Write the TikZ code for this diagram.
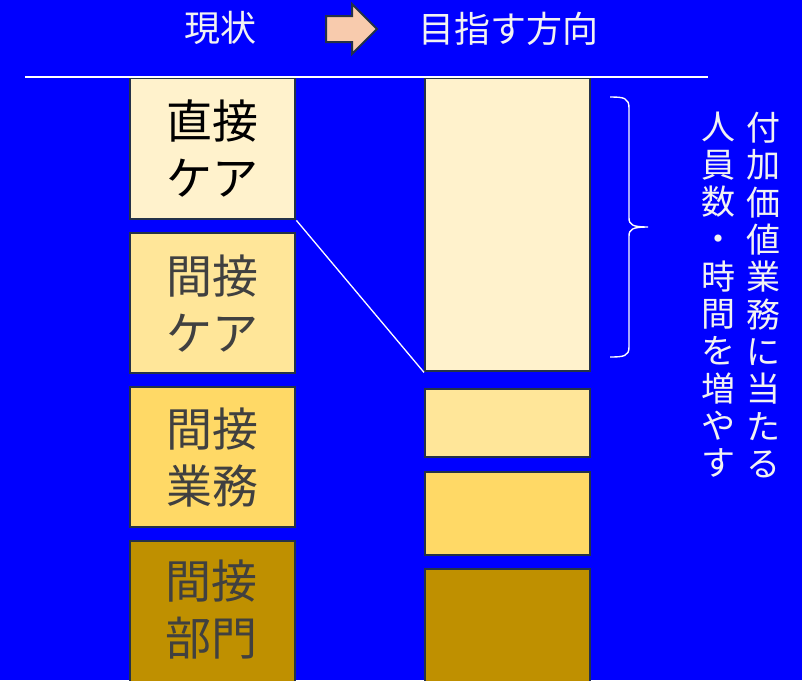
\documentclass[tikz,border=0pt]{standalone}
\usepackage{fontspec}
\setmainfont{Noto Sans CJK JP}
\definecolor{bgblue}{RGB}{0,0,255}
\definecolor{creamfill}{RGB}{255,242,204}
\definecolor{lightfill}{RGB}{255,230,153}
\definecolor{midfill}{RGB}{255,217,102}
\definecolor{darkfill}{RGB}{191,144,0}
\definecolor{edgecol}{RGB}{36,50,72}
\definecolor{arrowfill}{RGB}{248,203,173}
\definecolor{textgray}{RGB}{64,64,64}
\definecolor{toptext}{RGB}{242,242,242}
\tikzset{
  barbox/.style={draw=edgecol, line width=2.4pt, inner sep=0pt, anchor=north west},
  boxtext/.style={font=\fontsize{46}{57}\selectfont, align=center, inner sep=0pt},
  toplabel/.style={font=\fontsize{36}{40}\selectfont, text=toptext, inner sep=0pt},
  vlabel/.style={font=\fontsize{34}{37.3}\selectfont, text=toptext, align=center, inner sep=0pt},
}
\begin{document}
\begin{tikzpicture}[x=1pt,y=-1pt]
\useasboundingbox (0,0) rectangle (802,680);
\fill[bgblue] (0,0) rectangle (802,680);
\clip (0,0) rectangle (802,680);
% left column
\node[barbox, fill=creamfill, minimum width=165pt, minimum height=141pt] (L1) at (129,77) {};
\node[barbox, fill=lightfill, minimum width=165pt, minimum height=140pt] (L2) at (129,232) {};
\node[barbox, fill=midfill, minimum width=165pt, minimum height=140pt] (L3) at (129,386) {};
\node[barbox, fill=darkfill, minimum width=165pt, minimum height=150pt] (L4) at (129,540) {};
\node[boxtext, text=black] (T1) at (L1.center) {直接\\ケア};
\node[boxtext, text=textgray] (T2) at (L2.center) {間接\\ケア};
\node[boxtext, text=textgray] (T3) at (L3.center) {間接\\業務};
\node[boxtext, text=textgray] (T4) at (211,610) {間接\\部門};
% right column
\node[barbox, fill=creamfill, minimum width=165pt, minimum height=293pt] (R1) at (424,77) {};
\node[barbox, fill=lightfill, minimum width=165pt, minimum height=68pt] (R2) at (424,388) {};
\node[barbox, fill=midfill, minimum width=165pt, minimum height=83pt] (R3) at (424,471) {};
\node[barbox, fill=darkfill, minimum width=165pt, minimum height=130pt] (R4) at (424,568) {};
% top line
\coordinate (HL) at (25,77);
\coordinate (HR) at (708,77);
\draw[white, line width=1.3pt] (HL) -- (HR);
% diagonal
\draw[white, line width=1.3pt] (L1.south east) -- (R1.south west);
% top labels
\node[toplabel] (cur) at (220,28) {現状};
\node[toplabel] (goal) at (508,29) {目指す方向};
% block arrow
\draw[draw=edgecol, fill=arrowfill, line width=2pt, line join=miter]
  (326,16) -- (352,16) -- (352,4) -- (377,29) -- (352,54) -- (352,42) -- (326,42) -- cycle;
% brace
\draw[white, line width=1.4pt]
  (610,97) .. controls (624,97) and (629,98) .. (629,108) -- (629,218)
  .. controls (629,225) and (633,227) .. (648,227)
  .. controls (633,227) and (629,229) .. (629,236) -- (629,347)
  .. controls (629,356) and (624,357) .. (610,357);
% vertical text
\node[vlabel] (V1) at (763,295) {付\\加\\価\\値\\業\\務\\に\\当\\た\\る};
\node[vlabel] (V2) at (718,295) {人\\員\\数\\・\\時\\間\\を\\増\\や\\す};
\end{tikzpicture}
\end{document}
